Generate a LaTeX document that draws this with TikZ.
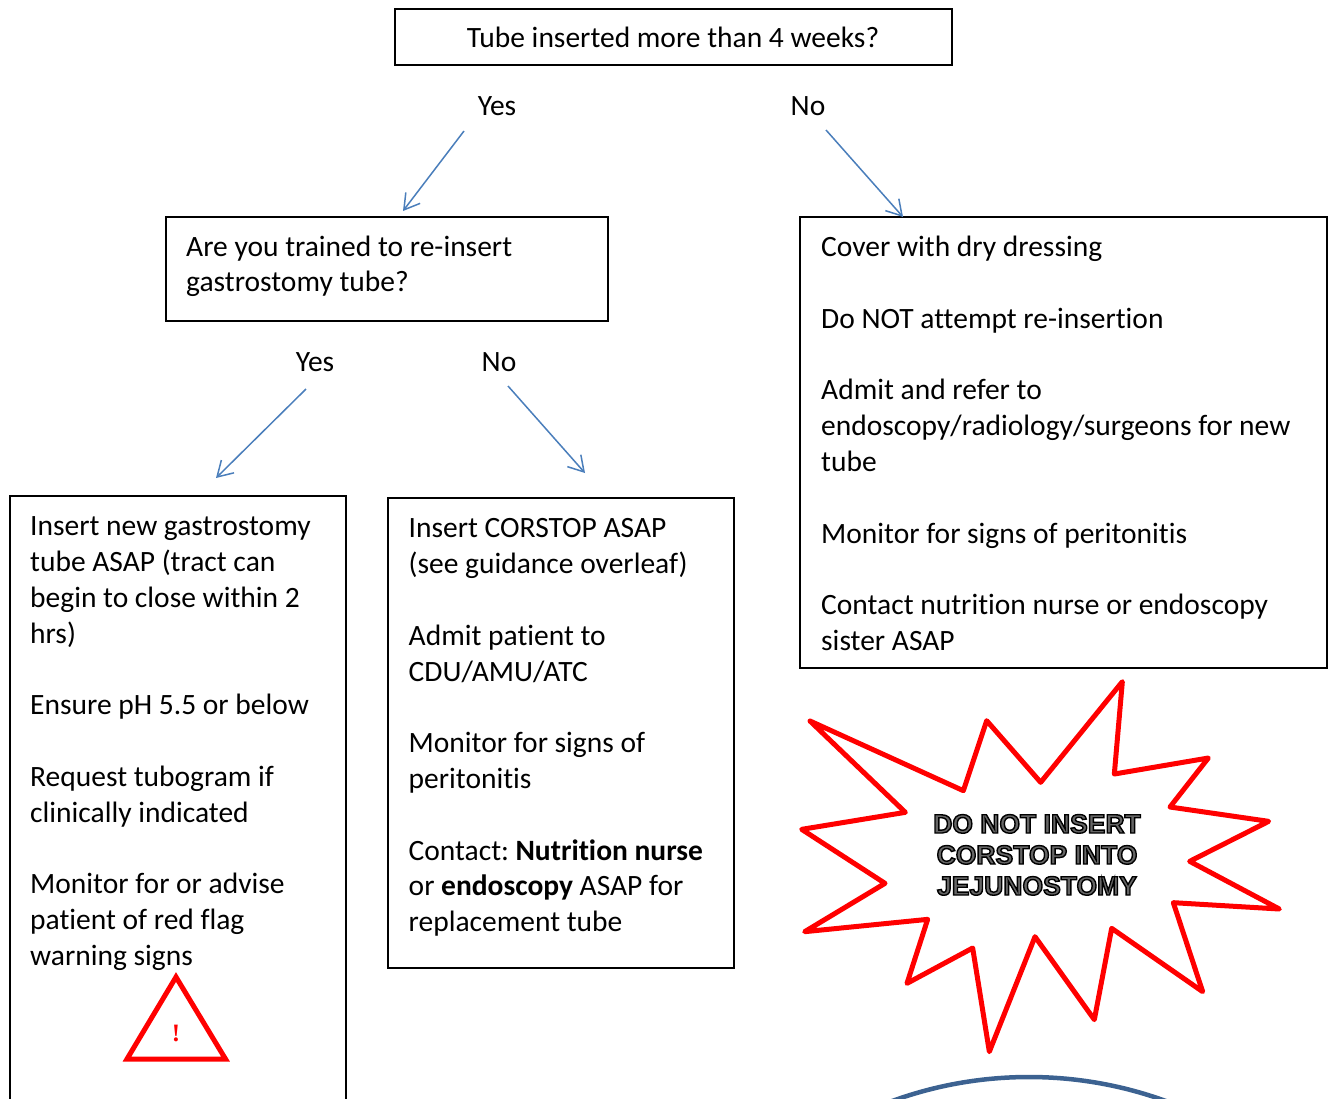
\documentclass[tikz,border=0pt]{standalone}
\usepackage{fontspec}
\setmainfont{Carlito}[Ligatures=NoCommon]
\newfontfamily\burstfont[Scale=1]{Liberation Sans}
\newfontfamily\warnfont{Liberation Serif}
\usetikzlibrary{arrows.meta}
\definecolor{arrowblue}{HTML}{4A7EBB}
\definecolor{arcblue}{HTML}{3C6291}
\tikzset{
  x=1pt,y=-1pt,
  boxframe/.style={draw=black,line width=1.6pt,fill=none,rectangle,inner sep=0pt,anchor=north west},
  bodytext/.style={anchor=north west,inner sep=0pt,align=left,font=\fontsize{29.5}{35.8}\selectfont},
  choice/.style={anchor=base,inner sep=0pt,font=\fontsize{29.5}{35.8}\selectfont},
  flow/.style={draw=arrowblue,line width=1.5pt,-{Straight Barb[length=15pt,width=18pt,line width=1.5pt]}},
  burst/.style={draw=red,line width=5pt,line join=round},
}
\newcommand{\outlined}[1]{\special{pdf:code 2 Tr 0.4 0.4 0.4 rg 1.4 w}#1\special{pdf:code 0 Tr 0 0 0 rg}}
\begin{document}
\begin{tikzpicture}
\useasboundingbox (0,0) rectangle (1332,1098);
\clip (0,0) rectangle (1332,1098);
% boxes
\node[boxframe,minimum width=557pt,minimum height=56pt] (top) at (394,8) {};
\node[boxframe,minimum width=442pt,minimum height=104pt] (trained) at (165,216) {};
\node[boxframe,minimum width=527pt,minimum height=451pt] (cover) at (799,216) {};
\node[boxframe,minimum width=336pt,minimum height=640pt] (insert) at (9,495) {};
\node[boxframe,minimum width=346pt,minimum height=470pt] (corstop) at (387,497) {};
% box texts
\node[choice] (toptext) at (673,47) {Tube inserted more than 4 weeks?};
\node[bodytext] (trainedtext) at (186,235.5) {Are you trained to re-insert\\gastrostomy tube?};
\node[bodytext] (covertext) at (821,236) {Cover with dry dressing\\[35.8pt]Do NOT attempt re-insertion\\[35.8pt]Admit and refer to\\endoscopy/radiology/surgeons for new\\tube\\[35.8pt]Monitor for signs of peritonitis\\[35.8pt]Contact nutrition nurse or endoscopy\\sister ASAP};
\node[bodytext] (inserttext) at (30,516.5) {Insert new gastrostomy\\tube ASAP (tract can\\begin to close within 2\\hrs)\\[35.8pt]Ensure pH 5.5 or below\\[35.8pt]Request tubogram if\\clinically indicated\\[35.8pt]Monitor for or advise\\patient of red flag\\warning signs};
\node[bodytext] (corstoptext) at (408.5,518.5) {Insert CORSTOP ASAP\\(see guidance overleaf)\\[35.8pt]Admit patient to\\CDU/AMU/ATC\\[35.8pt]Monitor for signs of\\peritonitis\\[35.8pt]Contact:\kern-2.5pt{} \textbf{Nutrition nurse}\\or \textbf{endoscopy} ASAP for\\replacement tube};
% branch labels
\node[choice] (yesa) at (497,115) {Yes};
\node[choice] (noa) at (808,115) {No};
\node[choice] (yesb) at (315,371) {Yes};
\node[choice] (nob) at (499,371) {No};
% connectors
\coordinate (yesastart) at (464,131);
\coordinate (yesaend) at (403,211);
\coordinate (noastart) at (826,130);
\coordinate (noaend) at (903,217);
\coordinate (yesbstart) at (306,389);
\coordinate (yesbend) at (216,478);
\coordinate (nobstart) at (508,386);
\coordinate (nobend) at (585,473);
\draw[flow] (yesastart) -- (yesaend);
\draw[flow] (noastart) -- (noaend);
\draw[flow] (yesbstart) -- (yesbend);
\draw[flow] (nobstart) -- (nobend);
% starburst
\begin{scope}[shift={(790,670)},x=0.33333pt,y=-0.33333pt]
\draw[burst] (60,153)--(520,362)--(590,152)--(752,337)--(997,35)--(973,312)--(1255,264)--(1140,411)--(1436,454)--(1199,574)--(1468,717)--(1150,698)--(1238,965)--(965,775)--(913,1049)--(735,800)--(598,1145)--(548,834)--(351,940)--(413,748)--(44,785)--(285,640)--(35,478)--(346,427)--cycle;
\end{scope}
\node[anchor=base,inner sep=0pt,align=center,font=\burstfont\bfseries\fontsize{26.5}{31}\selectfont] (bursttext) at (1037,895) {\outlined{DO NOT INSERT}\\\outlined{CORSTOP INTO}\\\outlined{JEJUNOSTOMY}};
% warning triangle
\draw[draw=red,line width=5pt,miter limit=10] (176,977) -- (225.5,1059) -- (127,1059) -- cycle;
\node[anchor=base,inner sep=0pt,text=red,font=\warnfont\bfseries\fontsize{25}{27}\selectfont] (warn) at (176,1041) {!};
% blue arc
\draw[draw=arcblue,line width=4.5pt] (1029,1477) circle (400);
\end{tikzpicture}
\end{document}
